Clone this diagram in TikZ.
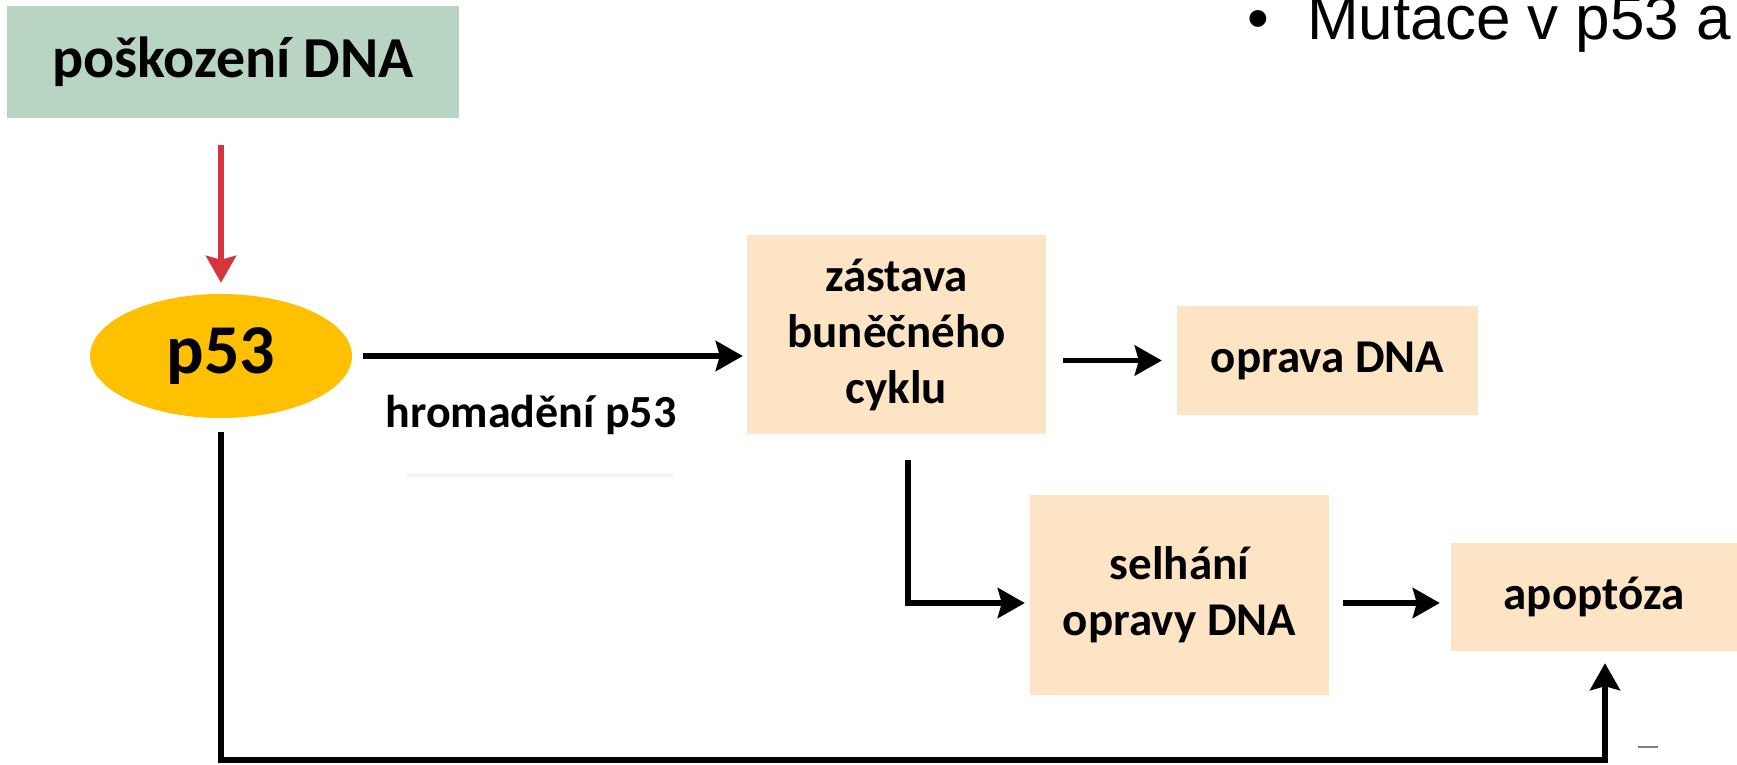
\documentclass[tikz,border=0pt]{standalone}
\usepackage{fontspec}
\setmainfont{Carlito}
\newfontfamily\arialfont{Liberation Sans}
\usetikzlibrary{arrows.meta,shapes.geometric}

\definecolor{dmggreen}{RGB}{184,213,196}
\definecolor{peach}{RGB}{252,228,196}
\definecolor{p53yellow}{RGB}{255,192,0}
\definecolor{signalred}{RGB}{214,52,62}

\begin{document}
\begin{tikzpicture}[x=1pt,y=-1pt,
  stage/.style={fill=peach, draw=none, inner sep=0pt, align=center,
    font=\bfseries\fontsize{47}{56}\selectfont},
  flow/.style={line width=5.5pt, -{Stealth[length=27pt,width=30pt,inset=4pt]}},
  redflow/.style={flow, draw=signalred, -{Stealth[length=27pt,width=30pt,inset=4pt,fill=signalred]}},
]
\useasboundingbox (0,0) rectangle (1737,765);

% heading text in the corner
\node[anchor=base, font=\arialfont\fontsize{62}{74}\selectfont] (bullet) at (1258,40) {•};
\node[anchor=base west, inner sep=0pt, font=\arialfont\fontsize{62}{74}\selectfont] (heading) at (1307,40) {Mutace v p53 a};

% trigger and central protein
\node[fill=dmggreen, minimum width=452pt, minimum height=112pt, inner sep=0pt,
  font=\bfseries\fontsize{58}{68}\selectfont] (dmg) at (233,62) {poškození DNA};
\node[ellipse, fill=p53yellow, minimum width=262pt, minimum height=124pt, inner sep=0pt,
  font=\bfseries\fontsize{70}{80}\selectfont] (p53) at (221,356) {p53};
\node[font=\bfseries\fontsize{46}{54}\selectfont, inner sep=0pt] (accum) at (531,415) {hromadění p53};

% cell responses
\node[stage, minimum width=299pt, minimum height=199pt] (zastava) at (896.5,334.5) {zástava\\buněčného\\cyklu};
\node[stage, minimum width=301pt, minimum height=109pt] (oprava) at (1327.5,360.5) {oprava DNA};
\node[stage, minimum width=299pt, minimum height=200pt] (selhani) at (1179.5,595) {selhání\\opravy DNA};
\node[stage, minimum width=286pt, minimum height=108pt] (apoptoza) at (1594,597) {apoptóza};

\coordinate (floor) at (0,760);

% connectors
\draw[redflow] ([yshift=-27pt]p53.north |- dmg.south) -- ([yshift=11pt]p53.north);
\draw[flow] ([xshift=11pt]p53.east) -- ([xshift=-4pt]p53.east -| zastava.west);
\draw[flow] ([xshift=17pt]zastava.east |- oprava.west) -- ([xshift=-15pt]oprava.west);
\draw[flow] ([xshift=11.5pt,yshift=-26pt]zastava.south) |- ([xshift=-5pt,yshift=-8pt]selhani.west);
\draw[flow] ([xshift=14pt,yshift=-8pt]selhani.east) -- ([xshift=-11pt,yshift=-8pt]selhani.east -| apoptoza.west);
\draw[flow] ([yshift=-14pt]p53.south) |- ([xshift=11pt]apoptoza.south |- floor) -- ([xshift=11pt,yshift=-12pt]apoptoza.south);

% faint marks
\draw[black!4, line width=4pt] (407,475) -- (673,475);
\draw[gray, line width=2pt] (1638,747) -- (1658,747);
\end{tikzpicture}
\end{document}
